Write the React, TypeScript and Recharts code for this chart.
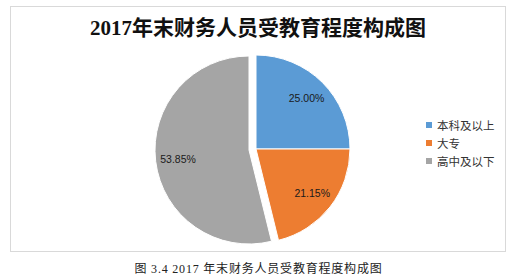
import { PieChart, Pie, Cell, Legend } from "recharts";

const categories = ["本科及以上", "大专", "高中及以下"];
const counts = [13, 11, 28];
const colors = ["#5b9bd5", "#ed7d31", "#a5a5a5"];
// the third slice is pulled out of the pie
const exploded = [false, false, true];

const title = "2017年末财务人员受教育程度构成图";
const caption = "图 3.4 2017 年末财务人员受教育程度构成图";

const data = categories.map((name, i) => ({ name, value: counts[i] }));

const RAD = Math.PI / 180;

const makeLabel = (wantExploded: boolean) => (p: any) => {
  const idx = categories.indexOf(p.name ?? p.payload?.name);
  if (exploded[idx] !== wantExploded) return null;
  const r = p.outerRadius * 0.76;
  const x = p.cx + r * Math.cos(-p.midAngle * RAD);
  const y = p.cy + r * Math.sin(-p.midAngle * RAD);
  return (
    <text
      x={x}
      y={y}
      textAnchor="middle"
      dominantBaseline="central"
      fontSize={10.5}
      fontFamily="'Liberation Sans', Arial, sans-serif"
      fill="#1a1a1a"
    >
      {(p.percent * 100).toFixed(2)}%
    </text>
  );
};

const renderLegend = () => (
  <div style={{ fontFamily: "'Noto Sans CJK SC', sans-serif", fontSize: 11.5, color: "#333" }}>
    {categories.map((c, i) => (
      <div key={c} style={{ display: "flex", alignItems: "center", height: 18 }}>
        <span style={{ width: 6, height: 6, background: colors[i], marginRight: 5 }} />
        {c}
      </div>
    ))}
  </div>
);

export default function App() {
  return (
    <div style={{ position: "absolute", left: 0, top: 0, width: 527, height: 279, background: "#fff" }}>
      {/* chart frame */}
      <div
        style={{
          position: "absolute",
          left: 10,
          top: 6,
          width: 494,
          height: 244,
          border: "1px solid #d9d9d9",
        }}
      />
      <div
        style={{
          position: "absolute",
          left: 10,
          top: 16,
          width: 496,
          textAlign: "center",
          fontFamily: "'Liberation Serif', 'Noto Sans CJK SC', serif",
          fontWeight: "bold",
          fontSize: 21,
          lineHeight: "24px",
          color: "#111",
        }}
      >
        {title}
      </div>

      <div style={{ position: "absolute", left: 0, top: 0 }}>
        <PieChart width={527} height={279}>
          <Pie
            data={data}
            dataKey="value"
            nameKey="name"
            cx={251}
            cy={144}
            outerRadius={94}
            startAngle={90}
            endAngle={-270}
            label={makeLabel(false)}
            labelLine={false}
            isAnimationActive={false}
            legendType="none"
          >
            {data.map((d, i) => (
              <Cell
                key={d.name}
                fill={exploded[i] ? "none" : colors[i]}
                stroke={exploded[i] ? "none" : "#fff"}
                strokeWidth={1}
              />
            ))}
          </Pie>
          <Pie
            data={data}
            dataKey="value"
            nameKey="name"
            cx={244}
            cy={145}
            outerRadius={94}
            startAngle={90}
            endAngle={-270}
            label={makeLabel(true)}
            labelLine={false}
            isAnimationActive={false}
            legendType="none"
          >
            {data.map((d, i) => (
              <Cell
                key={d.name}
                fill={exploded[i] ? colors[i] : "none"}
                stroke={exploded[i] ? "#fff" : "none"}
                strokeWidth={1}
              />
            ))}
          </Pie>
          <Legend
            content={renderLegend}
            layout="vertical"
            wrapperStyle={{ left: 426, top: 116, width: 90 }}
          />
        </PieChart>
      </div>

      <div
        style={{
          position: "absolute",
          left: 0,
          top: 261,
          width: 517,
          textAlign: "center",
          fontFamily: "'Liberation Serif', 'Noto Sans CJK SC', serif",
          fontSize: 12,
          lineHeight: "16px",
          letterSpacing: 0.8,
          color: "#222",
        }}
      >
        {caption}
      </div>
    </div>
  );
}
